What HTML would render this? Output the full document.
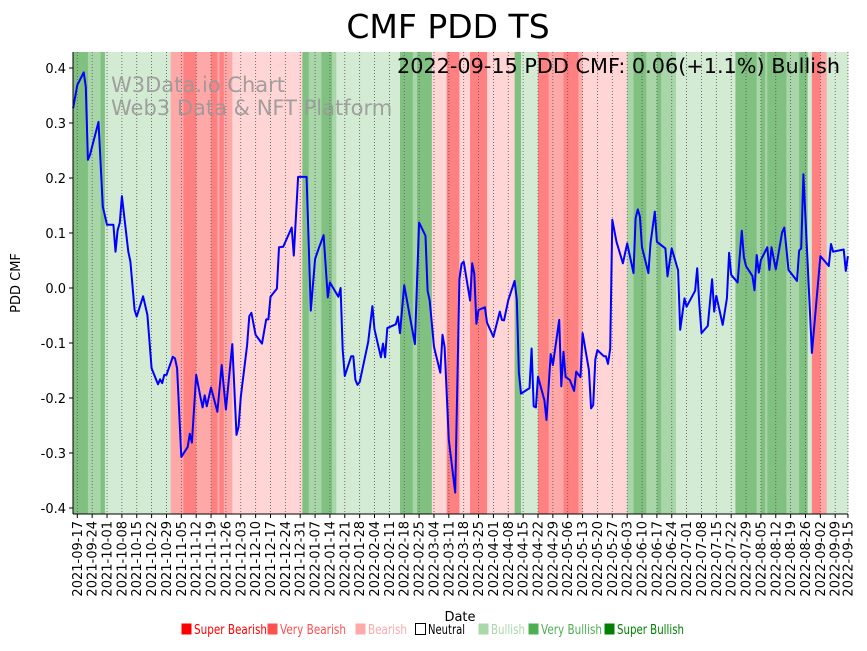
<!DOCTYPE html>
<html><head><meta charset="utf-8"><style>
body{margin:0;background:#fff;}
svg text{font-family:"DejaVu Sans","Liberation Sans",sans-serif;}
</style></head><body>
<svg id="chart" width="867" height="646" xmlns="http://www.w3.org/2000/svg">
<text x="448" y="38" font-size="33" text-anchor="middle">CMF PDD TS</text>
<g id="bands"></g>
<g id="grid"></g>
<text x="111" y="92" font-size="21" fill="#999" opacity="0.9">W3Data.io Chart</text>
<text x="111" y="115" font-size="21" fill="#999" opacity="0.9">Web3 Data &amp; NFT Platform</text>
<g id="series"></g>
<text x="397" y="73" font-size="20" textLength="443" lengthAdjust="spacingAndGlyphs">2022-09-15 PDD CMF: 0.06(+1.1%) Bullish</text>
<g id="axes"></g>
<text transform="translate(20,283) rotate(-90)" font-size="13" text-anchor="middle">PDD CMF</text>
<text x="460" y="621" font-size="13" text-anchor="middle">Date</text>
<g id="legend"></g>
</svg>
<script>
// days offset from 2021-09-17
const days=[-2,0,3,4,5,6,10,12,14,17,18,19,20,21,24,25,27,28,31,33,35,38,39,40,41,42,45,46,47,49,52,53,54,56,58,59,60,61,63,66,68,70,73,75,76,77,80,81,82,84,87,89,90,91,94,95,97,101,102,104,108,110,112,114,116,118,119,123,124,125,126,129,130,131,132,133,137,139,140,143,144,145,146,150,151,152,154,159,161,164,165,166,168,171,172,173,175,178,180,181,182,185,186,187,188,189,192,193,196,199,200,201,203,206,207,208,209,213,214,215,216,217,220,221,223,224,227,228,229,230,232,234,235,237,238,241,242,243,244,245,248,249,250,251,252,254,257,259,262,263,264,265,266,269,270,272,273,277,278,280,283,284,286,287,291,292,293,294,297,299,300,301,304,306,307,308,311,313,314,315,318,319,320,321,322,325,326,327,329,332,333,335,339,340,341,342,346,350,354,355,356,361,362,363];
const cmf=[0.327,0.369,0.392,0.366,0.233,0.242,0.302,0.148,0.115,0.115,0.066,0.105,0.119,0.167,0.066,0.048,-0.04,-0.052,-0.015,-0.049,-0.146,-0.175,-0.166,-0.173,-0.158,-0.158,-0.125,-0.128,-0.146,-0.307,-0.289,-0.265,-0.281,-0.158,-0.198,-0.217,-0.195,-0.215,-0.181,-0.225,-0.14,-0.221,-0.102,-0.267,-0.252,-0.198,-0.104,-0.051,-0.045,-0.085,-0.101,-0.057,-0.057,-0.016,-0.001,0.074,0.075,0.11,0.059,0.202,0.202,-0.041,0.053,0.075,0.096,-0.017,0.01,-0.016,0,-0.113,-0.16,-0.124,-0.124,-0.167,-0.176,-0.171,-0.098,-0.033,-0.075,-0.126,-0.101,-0.126,-0.073,-0.066,-0.052,-0.082,0.005,-0.102,0.119,0.095,-0.005,-0.023,-0.107,-0.154,-0.085,-0.107,-0.276,-0.372,0.016,0.044,0.048,-0.023,0.045,0.026,-0.065,-0.04,-0.035,-0.063,-0.089,-0.043,-0.058,-0.059,-0.022,0.013,-0.021,-0.154,-0.192,-0.182,-0.11,-0.215,-0.217,-0.161,-0.204,-0.24,-0.12,-0.14,-0.058,-0.179,-0.116,-0.162,-0.167,-0.187,-0.152,-0.162,-0.082,-0.149,-0.219,-0.213,-0.13,-0.113,-0.124,-0.124,-0.138,-0.11,0.124,0.084,0.045,0.081,0.027,0.127,0.143,0.13,0.074,0.027,0.081,0.139,0.084,0.072,0.021,0.072,0.032,-0.076,-0.019,-0.034,-0.005,0.036,-0.029,-0.082,-0.069,0.016,-0.043,-0.014,-0.067,-0.019,0.064,0.024,0.01,0.104,0.056,0.04,0.022,-0.004,0.06,0.028,0.051,0.074,0.033,0.074,0.034,0.101,0.11,0.033,0.013,0.068,0.072,0.207,-0.118,0.058,0.04,0.08,0.066,0.07,0.031,0.058];
// regime bands: start day, end day, level (-3..3)
const bandStart=[-2,5,11,13,44,50,56,63,66,67,69,73,106,109,115,120,122,152,158,160,167,174,180,185,193,206,209,217,222,229,236,238,259,262,268,273,275,282,310,320,322,324,325,334,340,344,346,350,353];
const bandEnd=[5,11,13,44,50,56,63,66,67,69,73,106,109,115,120,122,152,158,160,167,174,180,185,193,206,209,217,222,229,236,238,259,262,268,273,275,282,310,320,322,324,325,334,340,344,346,350,353,363];
const bandLevel=[3,2,3,1,-2,-3,-2,-3,-2,-3,-2,-1,3,2,3,2,1,3,2,3,-1,-3,-1,-3,-1,3,1,-3,-2,-3,-2,-1,2,3,2,3,2,1,3,2,3,2,3,2,3,1,-3,-2,1];
const yTicks=[-0.4,-0.3,-0.2,-0.1,0.0,0.1,0.2,0.3,0.4];
const legendLabels=["Super Bearish","Very Bearish","Bearish","Neutral","Bullish","Very Bullish","Super Bullish"];

const NS="http://www.w3.org/2000/svg";
const X0=77.3, PXD=2.123, Y0=288, PYU=550;
const xs=d=>X0+d*PXD, ys=v=>Y0-v*PYU;
const PL=73, PR=848, PT=52, PB=514;
function mk(tag,attrs,parent){const e=document.createElementNS(NS,tag);for(const k in attrs)e.setAttribute(k,attrs[k]);parent.appendChild(e);return e;}
const bandColor={"-3":"#ff8080","-2":"#ffa8a8","-1":"#ffd5d5","0":"#ffffff","1":"#d3ead3","2":"#a8d6a8","3":"#80c080"};
const gB=document.getElementById('bands');
for(let i=0;i<bandStart.length;i++){
  const x1=Math.max(PL,xs(bandStart[i])), x2=Math.min(PR,xs(bandEnd[i]));
  const r=mk('rect',{x:x1,y:PT,width:x2-x1+0.4,height:PB-PT,fill:bandColor[bandLevel[i]]},gB);
  
  
}
const gG=document.getElementById('grid'), gA=document.getElementById('axes');
const start=new Date(Date.UTC(2021,8,17));
function tick(d){
  const x=xs(d);
  const dt=new Date(start.getTime()+d*86400000);
  const lab=dt.toISOString().slice(0,10);
  const gl=mk('line',{x1:x,x2:x,y1:PT,y2:PB,stroke:"#555","stroke-width":0.8,"stroke-dasharray":"1,2"},gG);
  
  
  mk('line',{x1:x,x2:x,y1:PB,y2:PB+4,stroke:"#000","stroke-width":1},gA);
  const t=mk('text',{transform:`translate(${x+4.5},${PB+7}) rotate(-90)`,"font-size":13,"text-anchor":"end"},gA);
  t.textContent=lab;
  
  
}
for(let d=0;d<=357;d+=7) tick(d);
tick(363);
for(const v of yTicks){
  const y=ys(v);
  mk('line',{x1:PL-4,x2:PL,y1:y,y2:y,stroke:"#000"},gA);
  const t=mk('text',{x:PL-7,y:y+5,"font-size":13,"text-anchor":"end"},gA);
  t.textContent=v.toFixed(1);
  
  
}
mk('line',{x1:PL,x2:PL,y1:PT,y2:PB,stroke:"#000","stroke-width":1},gA);
mk('line',{x1:PL,x2:PR,y1:PB,y2:PB,stroke:"#000","stroke-width":1},gA);
const pts=days.map((d,i)=>xs(d).toFixed(1)+","+ys(cmf[i]).toFixed(1)).join(" ");
const pl=mk('polyline',{points:pts,fill:"none",stroke:"#0000ff","stroke-width":2,"stroke-linejoin":"round"},document.getElementById('series'));


const legColors=["#ff0000","#ff5050","#ffaaaa","#fff","#aad8aa","#4caf50","#008000"];
const legTxt=["#ff0000","#ff5050","#ffaaaa","#000","#aad8aa","#4caf50","#008000"];
const legX=[181,267,355,415,478,528,604];
const legW=[73,66,39,37,34,61,67];
const gL=document.getElementById('legend');
legendLabels.forEach((l,i)=>{
  const g=mk('g',{},gL);
  
  
  mk('rect',{x:legX[i]+0.5,y:623.5,width:10,height:11,fill:legColors[i],stroke:i===3?"#000":"none"},g);
  const t=mk('text',{x:legX[i]+13,y:634,"font-size":13,fill:legTxt[i],textLength:legW[i],lengthAdjust:"spacingAndGlyphs"},g);
  t.textContent=l;
});
</script>
</body></html>
